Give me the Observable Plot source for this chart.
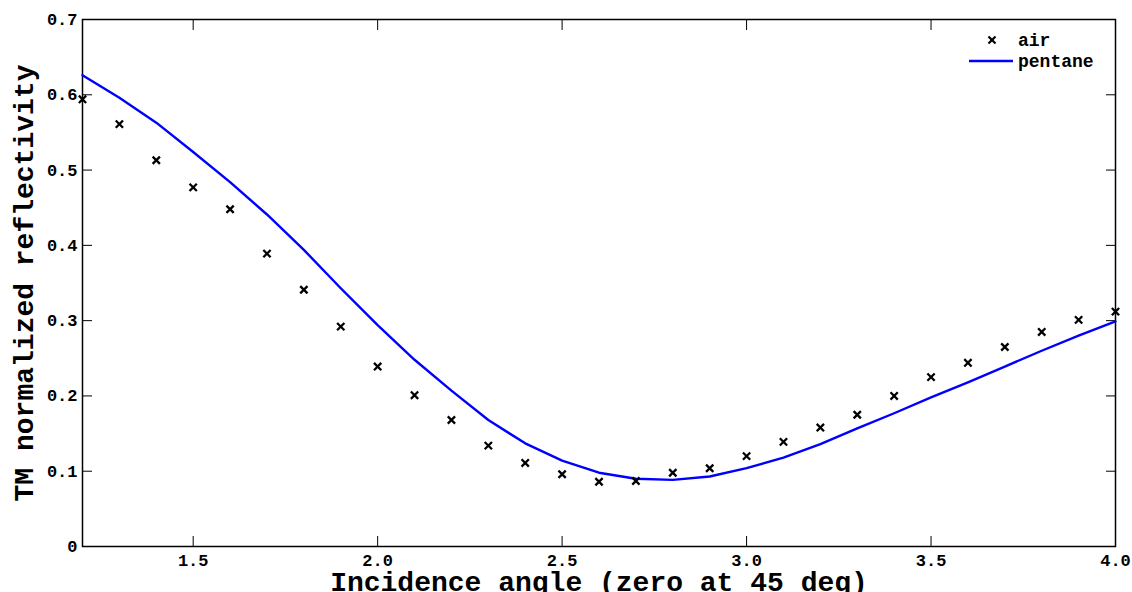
<!DOCTYPE html>
<html>
<head>
<meta charset="utf-8">
<script src="https://cdn.jsdelivr.net/npm/d3@7"></script>
<script src="https://cdn.jsdelivr.net/npm/@observablehq/plot@0.6"></script>
<style>
  html, body { margin: 0; padding: 0; background: #fff; }
</style>
</head>
<body>
<div id="chart"></div>
<script>
const angles = [1.2, 1.3, 1.4, 1.5, 1.6, 1.7, 1.8, 1.9, 2.0, 2.1, 2.2, 2.3, 2.4, 2.5, 2.6, 2.7, 2.8, 2.9, 3.0, 3.1, 3.2, 3.3, 3.4, 3.5, 3.6, 3.7, 3.8, 3.9, 4.0];
const air = [0.594, 0.561, 0.513, 0.477, 0.448, 0.389, 0.341, 0.292, 0.239, 0.201, 0.168, 0.134, 0.111, 0.096, 0.086, 0.087, 0.098, 0.104, 0.120, 0.139, 0.158, 0.175, 0.200, 0.225, 0.244, 0.265, 0.285, 0.301, 0.312];
const pentane = [0.626, 0.596, 0.563, 0.524, 0.484, 0.441, 0.394, 0.343, 0.294, 0.248, 0.207, 0.168, 0.137, 0.114, 0.098, 0.090, 0.0885, 0.093, 0.104, 0.118, 0.136, 0.157, 0.177, 0.198, 0.218, 0.239, 0.260, 0.280, 0.299];
const xTicks = [1.5, 2.0, 2.5, 3.0, 3.5, 4.0];
const yTicks = [0, 0.1, 0.2, 0.3, 0.4, 0.5, 0.6, 0.7];
const xLabel = "Incidence angle (zero at 45 deg)";
const yLabel = "TM normalized reflectivity";
const seriesNames = ["air", "pentane"];

const airData = angles.map((a, i) => ({angle: a, value: air[i]}));
const pentData = angles.map((a, i) => ({angle: a, value: pentane[i]}));

const font = "'Liberation Mono', 'DejaVu Sans Mono', monospace";

const chart = Plot.plot({
  width: 1132,
  height: 592,
  marginLeft: 82,
  marginRight: 17,
  marginTop: 19,
  marginBottom: 46,
  style: {fontFamily: font, fontWeight: "bold", fontSize: "17px", color: "black", background: "white"},
  x: {domain: [1.2, 4.0]},
  y: {domain: [0, 0.7]},
  marks: [
    Plot.axisX(xTicks, {anchor: "bottom", tickSize: -10, tickPadding: 17, tickFormat: d => d.toFixed(1), label: null, fontSize: 17}),
    Plot.axisX(xTicks, {anchor: "top", tickSize: -10, tickFormat: () => "", label: null}),
    Plot.axisY(yTicks, {anchor: "left", tickSize: -10, tickPadding: 15, tickFormat: d => d === 0 ? "0" : d.toFixed(1), label: null, fontSize: 17}),
    Plot.axisY(yTicks, {anchor: "right", tickSize: -10, tickFormat: () => "", label: null}),
    Plot.frame({stroke: "black", strokeWidth: 1.5}),
    Plot.line(pentData, {x: "angle", y: "value", stroke: "#0000ff", strokeWidth: 2.4}),
    Plot.dot(airData, {x: "angle", y: "value", symbol: "times", r: 3.4, stroke: "black", strokeWidth: 2.3}),
    Plot.text([xLabel], {frameAnchor: "bottom", dy: 36, fontSize: 28, fontWeight: "bold", lineAnchor: "middle", textAnchor: "middle"}),
    Plot.text([yLabel], {frameAnchor: "left", dx: -58, rotate: -90, fontSize: 28, fontWeight: "bold", lineAnchor: "middle", textAnchor: "middle"})
  ]
});

document.getElementById("chart").appendChild(chart);

// legend (inside top-right of frame)
const svg = d3.select(chart);
const lg = svg.append("g").attr("font-family", font).attr("font-weight", "bold").attr("font-size", 18).attr("text-anchor", "start");
const sym = d3.symbol(d3.symbolTimes, 34);
lg.append("path").attr("d", sym()).attr("transform", "translate(992,40)").attr("stroke", "black").attr("stroke-width", 2.2).attr("fill", "none");
lg.append("text").attr("x", 1018).attr("y", 40).attr("dy", "0.32em").attr("text-anchor", "start").text(seriesNames[0]);
lg.append("line").attr("x1", 969).attr("x2", 1013).attr("y1", 61).attr("y2", 61).attr("stroke", "#0000ff").attr("stroke-width", 2.4);
lg.append("text").attr("x", 1018).attr("y", 61).attr("dy", "0.32em").attr("text-anchor", "start").text(seriesNames[1]);
</script>
</body>
</html>
